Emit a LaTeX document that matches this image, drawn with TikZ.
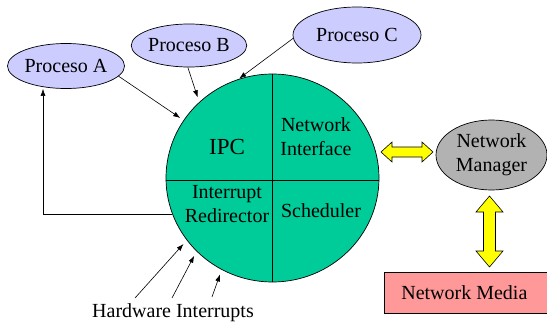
\documentclass[tikz,border=0pt]{standalone}
\usepackage{fontspec}
\setmainfont{Liberation Serif}
\usetikzlibrary{arrows.meta,shapes.geometric}
\definecolor{procfill}{RGB}{204,204,255}
\definecolor{kernfill}{RGB}{0,204,153}
\definecolor{mgrfill}{RGB}{178,178,178}
\definecolor{mediafill}{RGB}{255,153,153}
\definecolor{linkfill}{RGB}{255,255,0}
\tikzset{
  lbl/.style={font=\fontsize{20}{24}\selectfont, align=center, inner sep=0pt},
  proc/.style={ellipse, draw, fill=procfill, line width=0.7pt, inner sep=0pt, lbl},
  arr/.style={-{Latex[length=7pt,width=5pt]}, line width=0.6pt},
  linkarrow/.style={fill=linkfill, draw=black, line width=0.6pt, line join=miter},
}
\begin{document}
\begin{tikzpicture}[x=1pt,y=-1pt]
\useasboundingbox (0,0) rectangle (547,324);

% microkernel disc with its four parts
\node[ellipse, draw, fill=kernfill, line width=0.7pt, minimum width=213pt, minimum height=208pt, inner sep=0pt] (core) at (272.5,178) {};
\draw[line width=0.7pt] (core.north) -- (core.south);
\draw[line width=0.7pt] ([yshift=-2pt]core.west) -- ([yshift=-2pt]core.east);
\node[lbl, font=\fontsize{23}{27}\selectfont] (ipc) at (227,147) {IPC};
\node[lbl] (netif) at (316,137) {Network\\Interface};
\node[lbl] (irq) at (227,204) {Interrupt\\Redirector};
\node[lbl] (sched) at (321,211) {Scheduler};

% user processes
\node[proc, minimum width=107pt, minimum height=45pt] (pa) at (66,66) {Proceso A};
\node[proc, minimum width=107pt, minimum height=43pt] (pb) at (189,45.5) {Proceso B};
\node[proc, minimum width=128pt, minimum height=56pt] (pc) at (357,35) {Proceso C};

% network side
\node[ellipse, draw, fill=mgrfill, line width=0.7pt, minimum width=111pt, minimum height=70pt, inner sep=0pt, lbl] (mgr) at (491.5,155) {Network\\Manager};
\node[draw, fill=mediafill, line width=0.7pt, minimum width=166pt, minimum height=41pt, inner sep=0pt, lbl, anchor=west] (media) at (384,292.5) {\hspace*{-3pt}Network Media\hspace*{3pt}};

% process calls into the kernel
\draw[arr, shorten >=4pt] (pa.349) -- (core.147);
\draw[arr, shorten >=5pt] (pb.267) -- (core.134);
\draw[arr, shorten >=1pt] (pc.183) -- (core.109);
\draw[arr] (core.200) -| ([xshift=-23pt]pa.south);

% hardware interrupts
\node[lbl] (hw) at (173,313) {Hardware Interrupts};
\coordinate (hw1) at (135,298);
\coordinate (hw2) at (172,298);
\coordinate (hw3) at (212,297);
\draw[arr, shorten >=5pt] (hw1) -- (core.216);
\draw[arr, shorten >=5pt] (hw2) -- (core.224);
\draw[arr, shorten >=5pt] (hw3) -- (core.241);

% two-way links
\draw[linkarrow] (381,152) -- (392,142) -- (392,147) -- (422,147) -- (422,142) -- (433,152)
  -- (422,162) -- (422,157) -- (392,157) -- (392,162) -- cycle;
\draw[linkarrow] (489.5,196) -- (503,212) -- (495.5,212) -- (495.5,251) -- (503,251) -- (489.5,267)
  -- (476,251) -- (483.5,251) -- (483.5,212) -- (476,212) -- cycle;
\end{tikzpicture}
\end{document}
